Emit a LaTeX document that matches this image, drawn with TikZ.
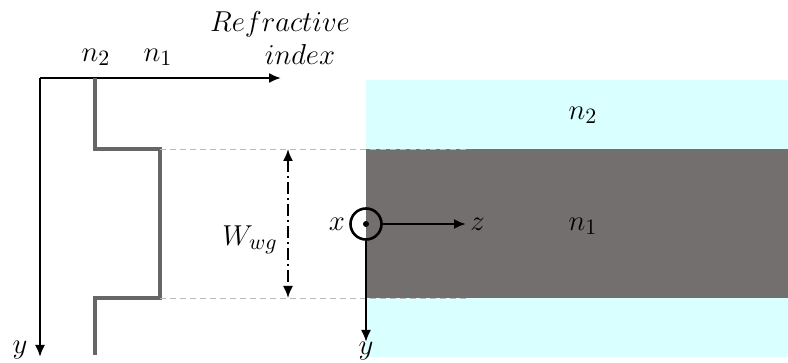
\documentclass[tikz,border=0pt]{standalone}
\usepackage{tikz}
\usetikzlibrary{positioning,arrows.meta}
\definecolor{cladcyan}{HTML}{DAFFFF}
\definecolor{coregray}{HTML}{736F6E}
\definecolor{profgray}{HTML}{666666}

\begin{document}
\begin{tikzpicture}[
  x=0.5pt, y=-0.5pt,
  font=\fontsize{15}{17}\selectfont,
  axis/.style={-{Latex[length=6pt,width=5pt]}, line width=1pt},
  profile/.style={draw=profgray, line width=1.6pt},
  guide/.style={densely dashed, gray!55, line width=0.4pt},
  lbl/.style={inner sep=1pt}
]
\useasboundingbox (0,0) rectangle (788,363);

% waveguide: cladding and core
\fill[cladcyan] (366,80) rectangle (788,357);
\fill[coregray] (366,149) rectangle (788,298);
\node[lbl] (clad) at (583,115) {$n_2$};
\node[lbl] (core) at (583,226) {$n_1$};

% index profile axes
\coordinate (o) at (40,78);
\coordinate (yend) at (40,357);
\coordinate (xend) at (281,78);
\draw[axis] (o) |- (xend);
\draw[axis] (o) -- (yend);
\node[lbl] (ylbl) at (20,350) {$y$};
\node[lbl] (rlbl) at (280,24) {$Refractive$};
\node[lbl] (ilbl) at (300,55) {$index$};
\node[lbl] (n2) at (96,57) {$n_2$};
\node[lbl] (n1) at (158,57) {$n_1$};

% step profile
\coordinate (p0) at (95,78);
\coordinate (p1) at (95,149);
\coordinate (p2) at (160,149);
\coordinate (p3) at (160,298);
\coordinate (p4) at (95,298);
\coordinate (p5) at (95,355);
\draw[profile] (p0) -- (p1) -- (p2) -- (p3) -- (p4) -- (p5);

% guides and width
\coordinate (g1) at (470,149);
\coordinate (g2) at (470,298);
\draw[guide] (p2) -- (g1);
\draw[guide] (p3) -- (g2);
\coordinate (wt) at (288,149);
\coordinate (wb) at (288,298);
\draw[{Latex[length=6pt,width=5pt]}-{Latex[length=6pt,width=5pt]}, line width=0.9pt, dash pattern=on 6pt off 2pt on 1pt off 2pt] (wt) -- (wb);
\node[lbl] (wlbl) at (250,240) {$W_{wg}$};

% local axes
\node[draw, circle, line width=1.3pt, minimum size=15.5pt, inner sep=0pt] (xo) at (366,224) {};
\fill (xo.center) circle (1.5pt);
\node[lbl, left=1pt of xo] (xlbl) {$x$};
\coordinate (zend) at (466,224);
\coordinate (yend2) at (366,342);
\draw[axis] (xo.east) -- (zend);
\draw[axis] (xo.south) -- (yend2);
\node[lbl, right=1pt of zend] (zlbl) {$z$};
\node[lbl, below=-1pt of yend2] (ylbl2) {$y$};
\end{tikzpicture}
\end{document}
